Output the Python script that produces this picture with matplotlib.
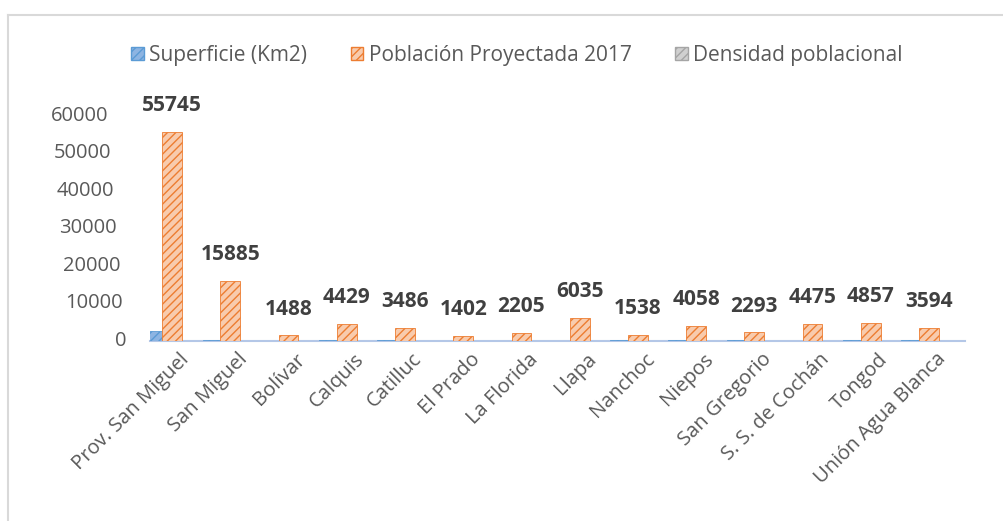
import matplotlib
matplotlib.use("Agg")
import matplotlib.pyplot as plt
from matplotlib.patches import Patch
from matplotlib.lines import Line2D
import numpy as np

categories = ["Prov. San Miguel", "San Miguel", "Bolívar", "Calquis", "Catilluc",
              "El Prado", "La Florida", "Llapa", "Nanchoc", "Niepos",
              "San Gregorio", "S. S. de Cochán", "Tongod", "Unión Agua Blanca"]
superficie = [2542.08, 368.26, 79.88, 339.00, 197.11, 70.54, 61.33, 132.85,
              358.90, 158.88, 308.08, 131.96, 163.55, 171.74]
poblacion = [55745, 15885, 1488, 4429, 3486, 1402, 2205, 6035,
             1538, 4058, 2293, 4475, 4857, 3594]
densidad = [21.93, 43.13, 18.63, 13.06, 17.69, 19.88, 35.95, 45.43,
            4.29, 25.54, 7.44, 33.91, 29.70, 20.93]
yticks = [0, 10000, 20000, 30000, 40000, 50000, 60000]
series_names = ["Superficie (Km2)", "Población Proyectada 2017", "Densidad poblacional"]

plt.rcParams['font.family'] = ['Open Sans', 'DejaVu Sans']

W, H = 1004, 521
fig = plt.figure(figsize=(W / 100, H / 100), dpi=100)
fig.patch.set_facecolor("white")

# outer frame (top and left edges visible)
fig.add_artist(Line2D([8 / W, 8 / W], [0, 1 - 15 / H], transform=fig.transFigure,
                      color="#D9D9D9", lw=1.5))
fig.add_artist(Line2D([8 / W, 1], [1 - 15 / H, 1 - 15 / H], transform=fig.transFigure,
                      color="#D9D9D9", lw=1.5))

ax = fig.add_axes([150 / W, 1 - 341 / H, 815 / W, (341 - 97) / H])
x = np.arange(len(categories))
bw = 0.34

blue_fc, blue_ec = "#8DB4E2", "#5B9BD5"
or_fc, or_ec = "#F8CBAD", "#ED7D31"
gr_fc, gr_ec = "#D0D0D0", "#A5A5A5"

ax.bar(x - bw * 0.9, superficie, width=bw, color=blue_fc, edgecolor=blue_ec,
       hatch="////", linewidth=0.6, zorder=3)
ax.bar(x, poblacion, width=bw, color=or_fc, edgecolor=or_ec,
       hatch="////", linewidth=0.6, zorder=4)
ax.bar(x + bw * 0.9, densidad, width=bw, color=gr_fc, edgecolor=gr_ec,
       hatch="////", linewidth=0.6, zorder=3)

for xi, v in zip(x, poblacion):
    ax.annotate(f"{v}", (xi, v), xytext=(0, 19), textcoords="offset points",
                ha="center", va="center", fontsize=15, fontweight="bold",
                color="#404040")

ax.set_xlim(-0.38, 13.62)
ax.set_ylim(0, 65000)
for s in ["top", "right", "left"]:
    ax.spines[s].set_visible(False)
ax.spines["bottom"].set_color("#B4C7E7")
ax.spines["bottom"].set_linewidth(1.5)

ax.set_yticks(yticks)
ax.set_yticklabels([])
ax.tick_params(axis="y", length=0)
# y tick labels (slightly skewed like the 3D chart)
for t in yticks:
    right_px = 108 + (126 - 108) * (1 - t / 60000)
    ax.text((right_px - 150) / 815, t, f"{t}", transform=ax.get_yaxis_transform(),
            ha="right", va="center", fontsize=14.5, color="#595959")

ax.set_xticks(x)
ax.set_xticklabels([])
ax.tick_params(axis="x", length=0)
for xi, lab in zip(x, categories):
    ax.annotate(lab, (xi + 0.12, 0), xytext=(0, -6), textcoords="offset points",
                ha="right", va="top", rotation=45, rotation_mode="anchor",
                fontsize=14.5, color="#595959", annotation_clip=False)

handles = [Patch(facecolor=blue_fc, edgecolor=blue_ec, hatch="////"),
           Patch(facecolor=or_fc, edgecolor=or_ec, hatch="////"),
           Patch(facecolor=gr_fc, edgecolor=gr_ec, hatch="////")]
fig.legend(handles, series_names, loc="center", ncol=3,
           bbox_to_anchor=(517 / W, 1 - 55 / H), frameon=False,
           fontsize=15, handlelength=0.6, handleheight=0.6, handletextpad=0.25,
           columnspacing=2.1, labelcolor="#595959")

fig.savefig("out.png", dpi=100, facecolor="white")
